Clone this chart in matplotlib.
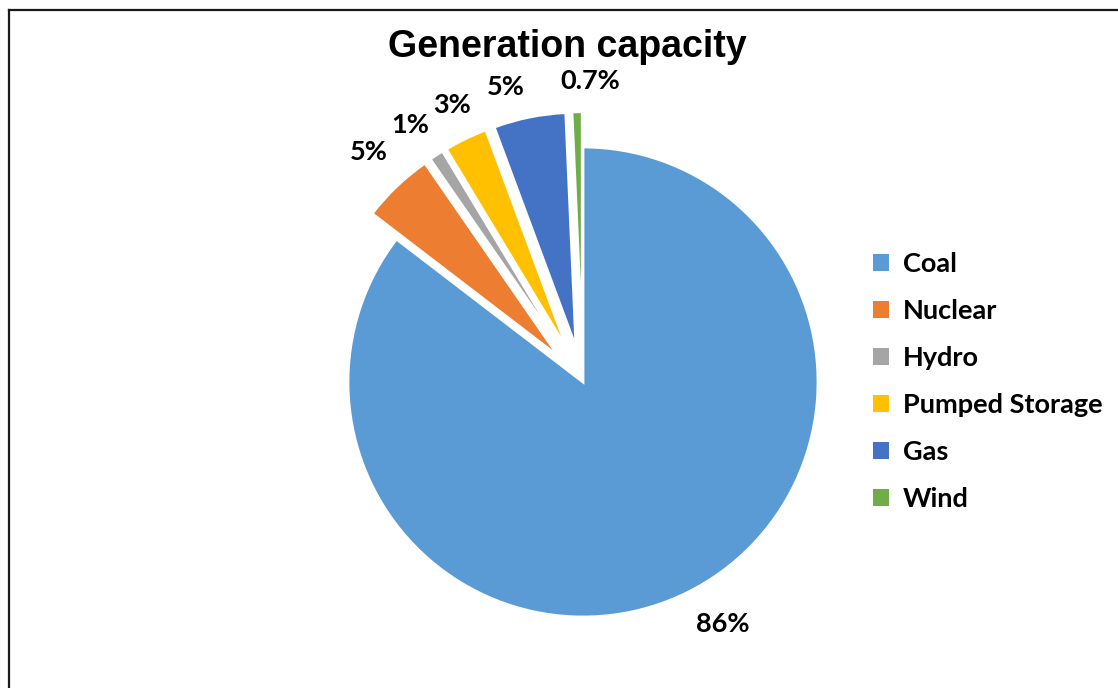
import numpy as np
import matplotlib
matplotlib.use("Agg")
import matplotlib.pyplot as plt
from matplotlib.patches import Patch
from matplotlib.lines import Line2D

# Installed generation capacity by source (percent share)
sources = ["Coal", "Nuclear", "Hydro", "Pumped Storage", "Gas", "Wind"]
shares = [86, 5, 1, 3, 5, 0.7]
share_labels = ["86%", "5%", "1%", "3%", "5%", "0.7%"]
colors = ["#5B9BD5", "#ED7D31", "#A5A5A5", "#FFC000", "#4472C4", "#70AD47"]

W, H = 1118, 688
fig = plt.figure(figsize=(W / 100, H / 100), dpi=100)
fig.patch.set_facecolor("white")

ax = fig.add_axes([0, 0, 1, 1])

radius = 235
# every slice except coal is pulled out from the centre
explode = [0] + [0.15 * radius] * (len(shares) - 1)
wedges, _ = ax.pie(
    shares, colors=colors, explode=explode, startangle=90, counterclock=False,
    radius=radius, center=(583, H - 382), frame=True,
    wedgeprops=dict(edgecolor="white", linewidth=2.0),
)
ax.set_xlim(0, W)
ax.set_ylim(0, H)
ax.set_aspect("equal")
ax.axis("off")

# Outside-end data labels, spread slightly apart where slices are narrow
label_font = dict(family="Lato", weight="bold", size=19.5, color="black")
label_radius = [1.19, 1.19, 1.17, 1.155, 1.15, 1.13]
angle_nudge = [3.7, -0.7, 1.2, -0.5, 3.7, -3.0]
for w, txt, rr, dn in zip(wedges, share_labels, label_radius, angle_nudge):
    mid = np.deg2rad((w.theta1 + w.theta2) / 2 + dn)
    cx, cy = w.center
    ax.text(cx + rr * w.r * np.cos(mid), cy + rr * w.r * np.sin(mid), txt,
            ha="center", va="center", **label_font)

# Title
fig.text(567 / W, 1 - 47 / H, "Generation capacity", ha="center", va="center",
         family="Liberation Sans", weight="bold", size=27)

# Legend
handles = [Patch(facecolor=c, edgecolor="none") for c in colors]
leg = fig.legend(handles, sources, loc="center left",
                 bbox_to_anchor=(873 / W, 1 - 381.5 / H),
                 frameon=False, handlelength=0.6, handleheight=0.6,
                 handletextpad=0.5, labelspacing=0.85, borderpad=0,
                 borderaxespad=0,
                 prop=dict(family="Lato", weight="bold", size=19.5))

# Chart area border (left and top edges visible)
fig.add_artist(Line2D([8.5 / W, 8.5 / W], [0, 1 - 9.5 / H], transform=fig.transFigure,
                      color="#1a1a1a", linewidth=1.6))
fig.add_artist(Line2D([8.5 / W, 1], [1 - 9.5 / H, 1 - 9.5 / H], transform=fig.transFigure,
                      color="#1a1a1a", linewidth=1.6))

fig.savefig("out.png", dpi=100, facecolor="white")
